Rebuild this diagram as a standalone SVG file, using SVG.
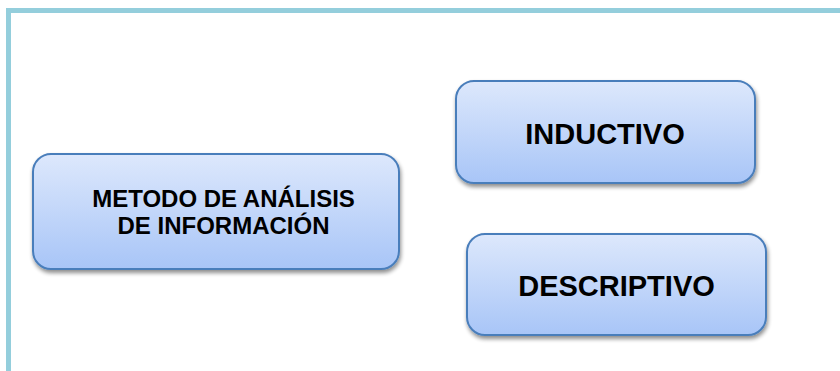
<svg xmlns="http://www.w3.org/2000/svg" width="840" height="371" viewBox="0 0 840 371">
<defs>
<linearGradient id="g" x1="0" y1="0" x2="0" y2="1">
<stop offset="0" stop-color="#dde8fc"/>
<stop offset="1" stop-color="#a8c5f7"/>
</linearGradient>
<filter id="sh" x="-10%" y="-10%" width="120%" height="130%">
<feGaussianBlur in="SourceAlpha" stdDeviation="2"/>
<feOffset dx="1" dy="3" result="b"/>
<feComponentTransfer><feFuncA type="linear" slope="0.45"/></feComponentTransfer>
<feMerge><feMergeNode/><feMergeNode in="SourceGraphic"/></feMerge>
</filter>
</defs>
<style>
.box{fill:url(#g);stroke:#4a7ebb;stroke-width:2;filter:url(#sh)}
.t{font-family:"Liberation Sans",Arial,sans-serif;font-weight:bold;fill:#000;text-anchor:middle}
</style>
<rect width="840" height="371" fill="#fff"/>
<rect x="8.5" y="10.5" width="840" height="380" fill="none" stroke="#94cedc" stroke-width="5"/>
<g id="connectors"></g>
<g id="metodo">
<rect class="box" x="33" y="154" width="366" height="115" rx="18"/>
<text class="t" x="223.5" y="207" font-size="24">METODO DE ANÁLISIS</text>
<text class="t" x="223.5" y="234" font-size="24">DE INFORMACIÓN</text>
</g>
<g id="inductivo">
<rect class="box" x="456" y="81" width="299" height="102" rx="18"/>
<text class="t" x="605" y="144" font-size="29">INDUCTIVO</text>
</g>
<g id="descriptivo">
<rect class="box" x="467" y="234" width="299" height="101" rx="18"/>
<text class="t" x="616.5" y="296" font-size="29">DESCRIPTIVO</text>
</g>
</svg>
